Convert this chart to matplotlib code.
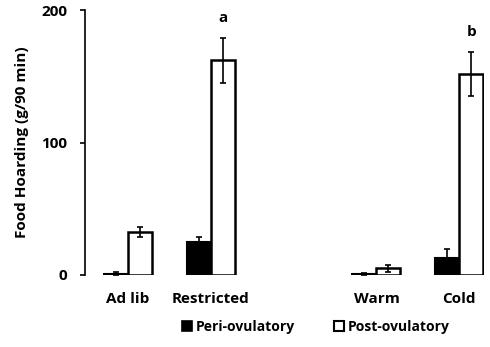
import numpy as np
import matplotlib.pyplot as plt
from matplotlib.patches import Patch

plt.rcParams['font.family'] = ['Open Sans', 'DejaVu Sans']
plt.rcParams['font.weight'] = 'bold'

# data
groups = ['Ad lib', 'Restricted', 'Warm', 'Cold']
positions = [0, 1, 3, 4]
peri = [0.7, 25, 0.5, 13]
peri_err = [1.2, 4, 1.0, 6.5]
post = [32.5, 162, 5, 152]
post_err = [3.5, 17, 2.5, 16.5]
letters = ['', 'a', '', 'b']

x = np.array(positions)
w = 0.29
fig = plt.figure(figsize=(4.9, 3.47), dpi=100)
ax = fig.add_axes([0.1735, 0.2075, 0.8145, 0.7635])

ax.bar(x - w / 2, peri, w, color='black', edgecolor='black', linewidth=1.5,
       yerr=peri_err, error_kw=dict(ecolor='black', elinewidth=1.2, capsize=2.5, capthick=1.2))
ax.bar(x + w / 2, post, w, color='white', edgecolor='black', linewidth=1.8,
       yerr=post_err, error_kw=dict(ecolor='black', elinewidth=1.2, capsize=2.5, capthick=1.2))

for i in range(len(x)):
    if letters[i]:
        ax.text(x[i] + w / 2, post[i] + post_err[i] + 10, letters[i], ha='center', va='bottom',
                fontsize=11, fontweight='bold')

ax.set_xlim(-0.52, 4.3)
ax.set_ylim(0, 200)
ax.set_yticks([0, 100, 200])
ax.set_xticks(x)
ax.set_xticklabels(groups, fontsize=11, fontweight='bold')
ax.tick_params(axis='x', length=0, pad=12)
ax.tick_params(axis='y', direction='out', length=3.6, width=1.2, labelsize=11, pad=9)
ax.spines['right'].set_visible(False)
ax.spines['top'].set_visible(False)
ax.spines['bottom'].set_visible(False)
ax.spines['left'].set_linewidth(1.2)
ax.set_ylabel('Food Hoarding (g/90 min)', fontsize=11, fontweight='bold', labelpad=9)

handles = [Patch(facecolor='black', edgecolor='black', linewidth=1.2),
           Patch(facecolor='white', edgecolor='black', linewidth=1.5)]
fig.legend(handles, ['Peri-ovulatory', 'Post-ovulatory'], loc='center', bbox_to_anchor=(0.645, 0.058),
           ncol=2, frameon=False, handlelength=0.7, handleheight=0.7, handletextpad=0.3,
           columnspacing=2.8, prop=dict(size=10, weight='bold'))

plt.savefig('out.png', dpi=100)
